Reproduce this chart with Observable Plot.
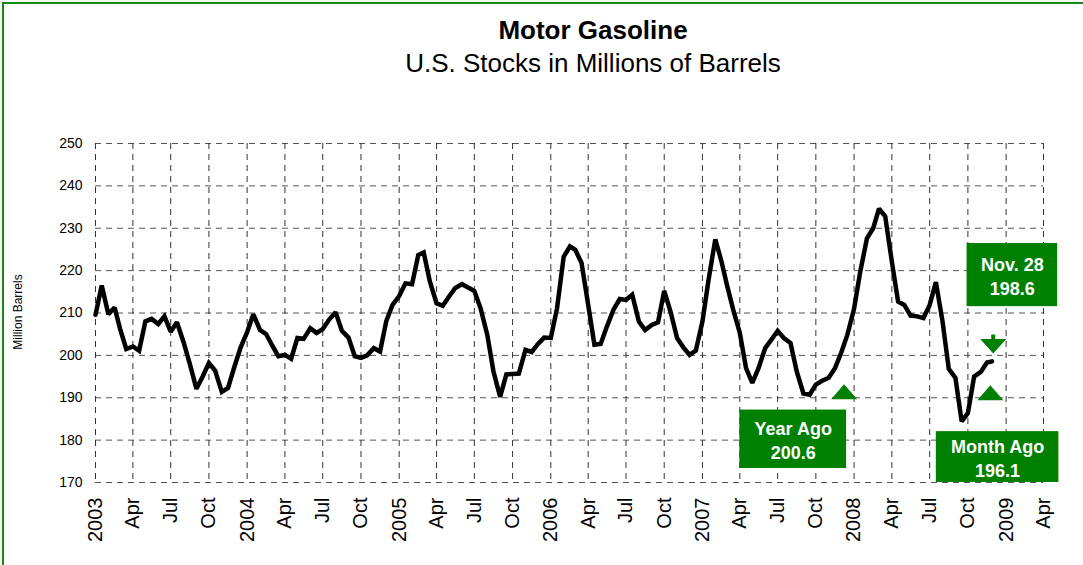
<!DOCTYPE html>
<html>
<head>
<meta charset="utf-8">
<script src="https://cdn.jsdelivr.net/npm/d3@7"></script>
<script src="https://cdn.jsdelivr.net/npm/@observablehq/plot@0.6"></script>
<style>
  body { margin: 0; background: #fff; font-family: "Liberation Sans", Arial, sans-serif; }
  #wrap { position: relative; width: 1083px; height: 565px; overflow: hidden; background: #fff; }
  #frame { position: absolute; left: 2px; top: 2px; width: 1300px; height: 900px; border: 2px solid #138a13; box-sizing: border-box; pointer-events: none; }
  .title { position: absolute; left: 0; width: 1186px; text-align: center; color: #000; white-space: nowrap; line-height: 1; }
  #t1 { top: 17px; font-size: 26px; font-weight: bold; }
  #t2 { top: 50px; font-size: 26px; }
  #ylab { position: absolute; left: 18px; top: 312px; transform: translate(-50%, -50%) rotate(-90deg); font-size: 12px; white-space: nowrap; }
  #chart { position: absolute; left: 0; top: 0; }
</style>
</head>
<body>
<div id="wrap">
  <div id="frame"></div>
  <div id="chart"></div>
  <div class="title" id="t1">Motor Gasoline</div>
  <div class="title" id="t2">U.S. Stocks in Millions of Barrels</div>
  <div id="ylab">Million Barrels</div>
</div>
<script>
// ---- Data: U.S. motor gasoline stocks (million barrels), semi-monthly readings (1st and 16th) ----
const years = [2003, 2004, 2005, 2006, 2007, 2008];
const stocks2003 = [209.6, 216.5, 209.7, 211.3, 206.3, 201.5, 202.1, 201.1, 208.0, 208.6, 207.4, 209.2, 205.6, 207.8, 203.1, 198.0, 192.1, 195.0, 198.2, 196.4, 191.4, 192.3, 197.2, 201.8];
const stocks2004 = [205.5, 209.7, 206.0, 205.0, 202.4, 199.8, 200.1, 199.2, 204.1, 203.9, 206.4, 205.3, 206.2, 208.4, 210.2, 205.8, 204.2, 199.8, 199.4, 200.0, 201.7, 200.9, 208.1, 211.9];
const stocks2005 = [214.0, 217.0, 216.8, 223.7, 224.3, 217.4, 212.3, 211.7, 213.9, 215.9, 216.8, 216.0, 215.2, 211.1, 204.9, 196.2, 190.2, 195.5, 195.6, 195.7, 201.3, 200.8, 202.7, 204.2];
const stocks2006 = [204.1, 211.1, 223.3, 225.7, 224.9, 221.8, 211.9, 202.5, 202.7, 206.8, 210.8, 213.3, 213.1, 214.3, 208.0, 206.0, 207.2, 207.8, 215.2, 210.4, 204.1, 201.9, 200.1, 201.1];
const stocks2007 = [208.0, 218.0, 227.4, 222.1, 216.6, 210.8, 205.3, 197.0, 193.5, 197.0, 201.7, 203.7, 205.8, 204.1, 202.9, 196.2, 191.0, 190.7, 193.1, 194.0, 194.7, 197.0, 200.6, 204.9];
const stocks2008 = [211.0, 219.8, 227.6, 230.0, 234.6, 232.8, 222.1, 212.7, 211.9, 209.4, 209.2, 208.8, 211.9, 217.3, 208.0, 196.8, 194.7, 184.4, 186.4, 195.0, 196.1, 198.3, 198.6];
const periodDays = [1, 16];
const lastDate = "2008-11-28";

// ---- Axis tick labels ----
const tickYears = [2003, 2004, 2005, 2006, 2007, 2008, 2009];
const quarterLabels = [null, "Apr", "Jul", "Oct"];
const yTicks = [170, 180, 190, 200, 210, 220, 230, 240, 250];
const xDomain = ["2003-01-01", "2009-04-01"];

// ---- Annotations ----
const boxLabels = ["Year Ago\n200.6", "Month Ago\n196.1", "Nov. 28\n198.6"];
const boxX1 = ["2007-04-01", "2008-07-17", "2008-09-29"];
const boxX2 = ["2007-12-14", "2009-05-08", "2009-05-05"];
const boxY1 = [173.3, 170.0, 211.5];
const boxY2 = [187.1, 182.0, 226.4];
const upMarkerDates = ["2007-12-08", "2008-11-24"];
const upMarkerValues = [191.4, 191.2];
const downMarkerDates = ["2008-12-01"];
const downMarkerValues = [202.7];

// ---- Build tables ----
const series = [stocks2003, stocks2004, stocks2005, stocks2006, stocks2007, stocks2008];
const data = [];
series.forEach((vals, i) => {
  vals.forEach((v, j) => {
    data.push({date: new Date(Date.UTC(years[i], Math.floor(j / 2), periodDays[j % 2])), value: v});
  });
});
data[data.length - 1].date = new Date(lastDate);

const xTicks = [];
tickYears.forEach(y => quarterLabels.forEach((q, k) => {
  const d = new Date(Date.UTC(y, k * 3, 1));
  if (d <= new Date(xDomain[1])) xTicks.push(d);
}));
const fmtTick = d => d.getUTCMonth() === 0 ? String(d.getUTCFullYear()) : quarterLabels[d.getUTCMonth() / 3];

const mid = (a, b) => new Date((new Date(a).getTime() + new Date(b).getTime()) / 2);
const boxes = boxLabels.map((t, i) => ({
  text: t,
  x1: new Date(boxX1[i]), x2: new Date(boxX2[i]),
  y1: boxY1[i], y2: boxY2[i],
  xm: mid(boxX1[i], boxX2[i]), ym: (boxY1[i] + boxY2[i]) / 2
}));
const ups = upMarkerDates.map((d, i) => ({date: new Date(d), value: upMarkerValues[i]}));
const downs = downMarkerDates.map((d, i) => ({date: new Date(d), value: downMarkerValues[i]}));

const upTriangle = {draw(ctx) { ctx.moveTo(-13, 7.5); ctx.lineTo(13, 7.5); ctx.lineTo(0, -7.5); ctx.closePath(); }};
const downArrow = {draw(ctx) {
  ctx.moveTo(-2, -9.5); ctx.lineTo(2, -9.5); ctx.lineTo(2, -5); ctx.lineTo(13, -5);
  ctx.lineTo(0, 9.5); ctx.lineTo(-13, -5); ctx.lineTo(-2, -5); ctx.closePath();
}};

const green = "#008000";

const chart = Plot.plot({
  width: 1083,
  height: 565,
  marginLeft: 95,
  marginRight: 40,
  marginTop: 143,
  marginBottom: 83,
  style: {fontFamily: "'Liberation Sans', Arial, sans-serif", background: "transparent", color: "#000"},
  x: {type: "utc", domain: xDomain.map(d => new Date(d))},
  y: {domain: [170, 250]},
  marks: [
    Plot.gridY(yTicks, {stroke: "#555", strokeOpacity: 1, strokeWidth: 1, strokeDasharray: "6,5"}),
    Plot.gridX(xTicks, {stroke: "#333", strokeOpacity: 1, strokeWidth: 1, strokeDasharray: "6,5"}),
    Plot.axisY(yTicks, {tickSize: 0, tickPadding: 13, fontSize: 14, label: null}),
    Plot.axisX(xTicks, {tickSize: 0, tickPadding: 15, tickRotate: -90, fontSize: 20, tickFormat: fmtTick, label: null}),
    Plot.line(data, {x: "date", y: "value", stroke: "#000", strokeWidth: 4.5, strokeLinejoin: "miter", strokeMiterlimit: 2}),
    Plot.rect(boxes, {x1: "x1", x2: "x2", y1: "y1", y2: "y2", fill: green}),
    Plot.text(boxes, {x: "xm", y: "ym", text: "text", fill: "#fff", fontWeight: "bold", fontSize: 18, lineHeight: 1.36}),
    Plot.dot(ups, {x: "date", y: "value", symbol: upTriangle, fill: green, r: 5}),
    Plot.dot(downs, {x: "date", y: "value", symbol: downArrow, fill: green, r: 5})
  ]
});
document.getElementById("chart").appendChild(chart);
</script>
</body>
</html>
